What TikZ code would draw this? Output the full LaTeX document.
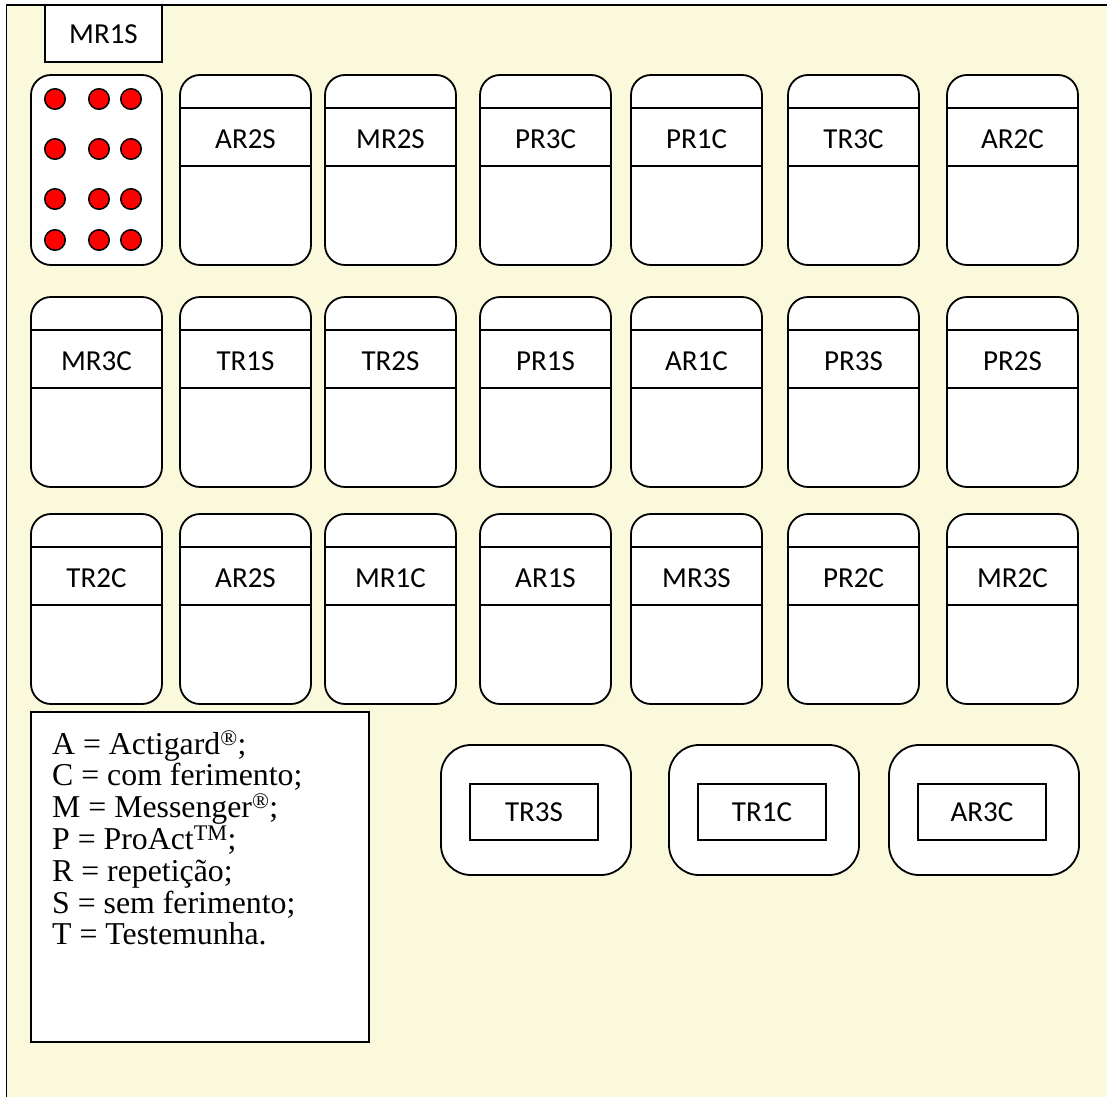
\documentclass[tikz,border=0pt]{standalone}
\usepackage{fontspec}
\setmainfont{Liberation Serif}
\newfontfamily\calib{Carlito}
\definecolor{bgyellow}{RGB}{250,249,220}
\definecolor{dotred}{RGB}{255,0,0}
\tikzset{
  cardline/.style={line width=1.8pt, draw=black},
  lbl/.style={font=\calib\fontsize{29}{34}\selectfont, inner sep=0pt},
  dotstyle/.style={circle, fill=dotred, draw=black, line width=1.5pt, minimum size=20.5pt, inner sep=0pt},
}
\newcommand{\mycard}[4]{%
  \draw[cardline, fill=white, rounded corners=20pt] (#2,#3) rectangle ++(131,190);
  \draw[cardline] (#2,#3+33) -- ++(131,0);
  \draw[cardline] (#2,#3+91) -- ++(131,0);
  \node[lbl] (#1) at (#2+65.5,#3+64) {#4};
}
\newcommand{\mybox}[3]{%
  \draw[cardline, fill=white, rounded corners=30pt] (#2,745) rectangle ++(190,130);
  \draw[cardline, fill=white] (#2+29,784) rectangle ++(128,56);
  \node[lbl] (#1) at (#2+93,812) {#3};
}
\begin{document}
\begin{tikzpicture}[x=1pt,y=-1pt]
\useasboundingbox (0,0) rectangle (1107,1097);
\fill[bgyellow] (6.5,5) rectangle (1107,1097);
\draw[line width=1.9pt] (6.5,1097) -- (6.5,5) -- (1107,5);
% MR1S label box
\draw[cardline, fill=white] (45,5) rectangle (162,62);
\node[lbl] (mr1sTop) at (103.5,34) {MR1S};
% dots tray
\draw[cardline, fill=white, rounded corners=20pt] (31,75) rectangle (162,265);
\foreach \yy [count=\i] in {99,149,199,240}{
  \foreach \xx [count=\j] in {55,99,131}{
    \node[dotstyle] (dot\i\j) at (\xx,\yy) {};
  }
}
% row 1
\mycard{rA2}{180}{75}{AR2S}
\mycard{rA3}{325}{75}{MR2S}
\mycard{rA4}{480}{75}{PR3C}
\mycard{rA5}{631}{75}{PR1C}
\mycard{rA6}{788}{75}{TR3C}
\mycard{rA7}{947}{75}{AR2C}
% row 2
\mycard{rB1}{31}{297}{MR3C}
\mycard{rB2}{180}{297}{TR1S}
\mycard{rB3}{325}{297}{TR2S}
\mycard{rB4}{480}{297}{PR1S}
\mycard{rB5}{631}{297}{AR1C}
\mycard{rB6}{788}{297}{PR3S}
\mycard{rB7}{947}{297}{PR2S}
% row 3
\mycard{rC1}{31}{514}{TR2C}
\mycard{rC2}{180}{514}{AR2S}
\mycard{rC3}{325}{514}{MR1C}
\mycard{rC4}{480}{514}{AR1S}
\mycard{rC5}{631}{514}{MR3S}
\mycard{rC6}{788}{514}{PR2C}
\mycard{rC7}{947}{514}{MR2C}
% legend
\draw[cardline, fill=white] (31,712) rectangle (369,1042);
\node[anchor=north west, align=left, inner sep=0pt, font=\fontsize{31.8}{31.8}\selectfont] (legend) at (52,730)
{A = Actigard\textsuperscript{®};\\
C = com ferimento;\\
M = Messenger\textsuperscript{®};\\
P = ProAct\textsuperscript{TM};\\
R = repetição;\\
S = sem ferimento;\\
T = Testemunha.};
% bottom boxes
\mybox{bx1}{441}{TR3S}
\mybox{bx2}{669}{TR1C}
\mybox{bx3}{889}{AR3C}
\end{tikzpicture}
\end{document}
